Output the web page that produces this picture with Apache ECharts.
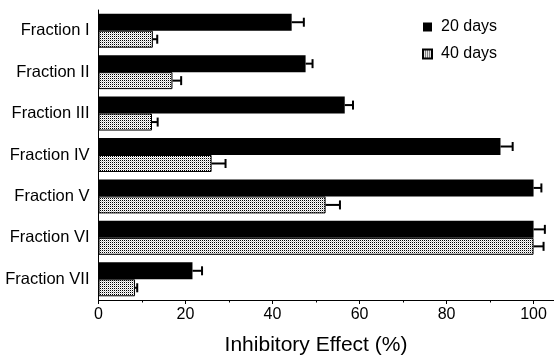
<!DOCTYPE html>
<html>
<head>
<meta charset="utf-8">
<script src="https://cdn.jsdelivr.net/npm/echarts@6/dist/echarts.min.js"></script>
<style>
  html, body { margin: 0; padding: 0; background: #fff; }
  #chart { width: 554px; height: 359px; }
</style>
</head>
<body>
<div id="chart"></div>
<script>
// Fractions, top to bottom
const categories = ['Fraction I', 'Fraction II', 'Fraction III', 'Fraction IV', 'Fraction V', 'Fraction VI', 'Fraction VII'];
// Inhibitory effect (%) after 20 days and 40 days
const days20 = [44.4, 47.6, 56.6, 92.4, 100, 100, 21.6];
const days40 = [12.5, 17.0, 12.3, 26.0, 52.2, 100, 8.4];
// Error bar half-widths
const err20 = [2.8, 1.6, 1.9, 2.8, 1.8, 2.6, 2.2];
const err40 = [1.0, 2.0, 1.3, 3.2, 3.3, 2.3, 0.5];
const xTicks = [0, 20, 40, 60, 80, 100];

const FONT = '"Liberation Sans", Arial, Helvetica, sans-serif';
const CAT_GAP = 0.18;

// Stippled fill for the 40-day bars
function stipple() {
  const c = document.createElement('canvas');
  c.width = 2; c.height = 2;
  const g = c.getContext('2d');
  g.fillStyle = '#fff';
  g.fillRect(0, 0, 2, 2);
  g.fillStyle = '#000';
  g.fillRect(0, 0, 1, 1);
  g.fillStyle = '#c8c8c8';
  g.fillRect(1, 1, 1, 1);
  return { image: c, repeat: 'repeat' };
}

// Error bars drawn at the end of each bar, on the bar's own slot in the band
function errorSeries(values, errs, slot) {
  return {
    type: 'custom',
    data: values.map((v, i) => [v, i, errs[i]]),
    encode: { x: 0, y: 1 },
    z: 10,
    silent: true,
    renderItem(params, api) {
      const v = api.value(0), i = api.value(1), e = api.value(2);
      const p0 = api.coord([v, i]);
      const p1 = api.coord([v + e, i]);
      const band = api.size([0, 1])[1];
      const bw = band * (1 - CAT_GAP) / 2;
      const y = p0[1] + (slot === 0 ? -bw / 2 : bw / 2);
      return {
        type: 'group',
        children: [
          { type: 'line', shape: { x1: p0[0], y1: y, x2: p1[0], y2: y }, style: { stroke: '#000', lineWidth: 2 } },
          { type: 'line', shape: { x1: p1[0], y1: y - 4.5, x2: p1[0], y2: y + 4.5 }, style: { stroke: '#000', lineWidth: 2 } }
        ]
      };
    }
  };
}

const chart = echarts.init(document.getElementById('chart'), null, { renderer: 'canvas' });
const dots = stipple();

chart.setOption({
  animation: false,
  textStyle: { fontFamily: FONT, color: '#000' },
  grid: { left: 98.5, right: -1.3, top: 10, bottom: 59, outerBoundsMode: 'none', containLabel: false },
  legend: {
    data: ['20 days', '40 days'],
    orient: 'vertical',
    left: 417,
    top: 14,
    itemWidth: 9,
    itemHeight: 9,
    itemGap: 11,
    icon: 'rect',
    textStyle: { fontFamily: FONT, fontSize: 16, color: '#000', padding: [0, 0, 0, 4] }
  },
  xAxis: {
    type: 'value',
    min: 0,
    max: 105,
    interval: 20,
    axisLine: { show: true, lineStyle: { color: '#000', width: 1 } },
    axisTick: { show: true, length: 4, lineStyle: { color: '#000' } },
    minorTick: { show: true, splitNumber: 2, length: 2.5, lineStyle: { color: '#000' } },
    splitLine: { show: false },
    axisLabel: {
      fontFamily: FONT, fontSize: 16, color: '#000', margin: 7,
      formatter: v => (xTicks.indexOf(v) >= 0 ? String(v) : '')
    }
  },
  yAxis: {
    type: 'category',
    data: categories,
    inverse: true,
    axisLine: { show: true, lineStyle: { color: '#000', width: 1 } },
    axisTick: { show: false },
    splitLine: { show: false },
    axisLabel: { fontFamily: FONT, fontSize: 16.5, color: '#000', margin: 9 }
  },
  series: [
    {
      name: '20 days',
      type: 'bar',
      data: days20,
      barGap: '0%',
      barCategoryGap: (CAT_GAP * 100) + '%',
      itemStyle: { color: '#000', borderColor: '#000', borderWidth: 0 }
    },
    {
      name: '40 days',
      type: 'bar',
      data: days40,
      barGap: '0%',
      barCategoryGap: (CAT_GAP * 100) + '%',
      itemStyle: { color: dots, borderColor: '#000', borderWidth: 1 }
    },
    errorSeries(days20, err20, 0),
    errorSeries(days40, err40, 1)
  ]
});

// Axis title, centred under the 0–100 span
const x0 = chart.convertToPixel({ xAxisIndex: 0 }, 0);
const x100 = chart.convertToPixel({ xAxisIndex: 0 }, 100);
chart.setOption({
  graphic: [{
    type: 'text',
    x: (x0 + x100) / 2,
    y: 345,
    style: { text: 'Inhibitory Effect (%)', font: '21px ' + FONT, fill: '#000', align: 'center', verticalAlign: 'middle' }
  }]
});
</script>
</body>
</html>
